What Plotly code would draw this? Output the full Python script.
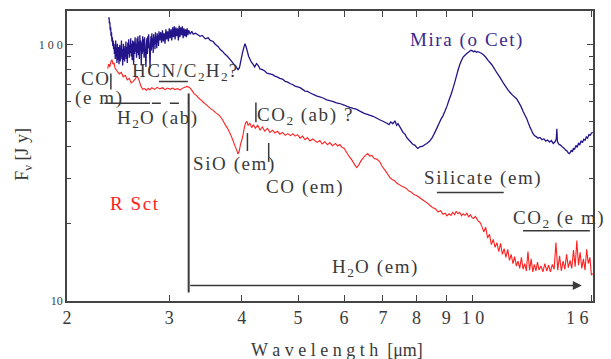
import math
import plotly.graph_objects as go

# ---------------- data ----------------
mira_wl = [2.360, 2.363, 2.366, 2.370, 2.374, 2.378, 2.382, 2.386, 2.390, 2.394, 2.398, 2.402, 2.406,
           2.410, 2.414, 2.418, 2.422, 2.426, 2.430, 2.434, 2.438, 2.442, 2.446, 2.450, 2.454, 2.458,
           2.462, 2.466, 2.470, 2.474, 2.478, 2.482, 2.486, 2.490, 2.494, 2.498, 2.502, 2.506, 2.510,
           2.514, 2.518, 2.522, 2.526, 2.530, 2.535, 2.540, 2.545, 2.550, 2.555, 2.560, 2.565, 2.570,
           2.575, 2.580, 2.585, 2.590, 2.595, 2.600, 2.605, 2.610, 2.615, 2.620, 2.625, 2.630, 2.635,
           2.640, 2.645, 2.650, 2.655, 2.660, 2.665, 2.670, 2.675, 2.680, 2.685, 2.690, 2.695, 2.700,
           2.705, 2.710, 2.715, 2.720, 2.725, 2.730, 2.735, 2.740, 2.745, 2.750, 2.755, 2.760, 2.765,
           2.770, 2.775, 2.780, 2.785, 2.790, 2.795, 2.800, 2.805, 2.810, 2.815, 2.820, 2.825, 2.830,
           2.835, 2.840, 2.845, 2.850, 2.855, 2.860, 2.865, 2.870, 2.875, 2.880, 2.890, 2.900, 2.910,
           2.920, 2.930, 2.940, 2.950, 2.960, 2.970, 2.980, 2.990, 3.000, 3.010, 3.020, 3.030, 3.040,
           3.050, 3.060, 3.070, 3.080, 3.090, 3.100, 3.110, 3.120, 3.130, 3.140, 3.150, 3.160, 3.170,
           3.180, 3.190, 3.200, 3.210, 3.220, 3.230, 3.240, 3.260, 3.280, 3.300,
           3.33, 3.36, 3.39, 3.42, 3.46, 3.50, 3.53, 3.57, 3.60,
           3.64, 3.67, 3.71, 3.74, 3.78, 3.82, 3.86, 3.89, 3.92, 3.94, 3.96, 3.97, 3.99, 4.01, 4.03,
           4.05, 4.07, 4.09, 4.11, 4.13, 4.15, 4.18, 4.21, 4.24, 4.27, 4.30, 4.34, 4.38, 4.42, 4.47,
           4.52, 4.56, 4.60, 4.65, 4.70, 4.75, 4.80, 4.84, 4.89, 4.94, 4.99, 5.04, 5.09, 5.14, 5.19,
           5.24, 5.31, 5.39, 5.45, 5.52, 5.60, 5.67, 5.75, 5.82, 5.90, 6.00, 6.07, 6.14, 6.22, 6.31,
           6.40, 6.50, 6.60, 6.73, 6.82, 6.91, 7.00, 7.11, 7.17, 7.22, 7.28, 7.34, 7.39, 7.43, 7.50,
           7.58, 7.64, 7.69, 7.75, 7.79, 7.87, 7.95, 8.00, 8.04, 8.10, 8.20, 8.27, 8.33, 8.42, 8.50,
           8.58, 8.67, 8.75, 8.82, 8.88, 8.95, 9.02, 9.10, 9.17, 9.23, 9.30, 9.36, 9.42, 9.49, 9.56,
           9.62, 9.69, 9.76, 9.85, 9.91, 9.96, 10.02, 10.08, 10.14, 10.20, 10.28, 10.36, 10.45, 10.54,
           10.62, 10.70, 10.78, 10.86, 10.95, 11.03, 11.12, 11.20, 11.30, 11.40, 11.50, 11.60, 11.70,
           11.80, 11.90, 12.00, 12.10, 12.20, 12.30, 12.38, 12.46, 12.55, 12.62, 12.68, 12.76, 12.85,
           12.95, 13.05, 13.15, 13.25, 13.35, 13.45, 13.55, 13.65, 13.75, 13.85, 13.92, 13.95, 13.98,
           14.05, 14.15, 14.25, 14.35, 14.45, 14.51, 14.58, 14.65, 14.70, 14.78, 14.84, 14.90, 14.96,
           15.05, 15.12, 15.20, 15.28, 15.36, 15.44, 15.52, 15.60, 15.68, 15.76, 15.84, 15.92, 16.00,
           16.08]
mira_flux = [126, 128, 121, 123, 114, 117, 108, 112, 103, 107, 99, 104, 96,
             101, 92, 98, 88, 104, 90, 97, 85, 101, 93, 87, 98, 84,
             95, 100, 86, 97, 90, 104, 88, 96, 83, 94, 101, 87, 97,
             86, 99, 90, 103, 88, 98, 85, 102, 92, 105, 89, 100, 93,
             106, 90, 101, 87, 104, 95, 84, 103, 92, 107, 94, 101, 89,
             106, 93, 108, 91, 103, 88, 109, 95, 104, 83, 102, 92, 108,
             94, 105, 89, 107, 96, 91, 82, 100, 106, 92, 108, 97, 110,
             99, 93, 81, 101, 108, 95, 111, 98, 106, 93, 110, 100, 107,
             96, 112, 101, 108, 97, 111, 102, 109, 99, 113, 104, 112, 102,
             114, 103, 111, 101, 115, 105, 113, 103, 116, 106, 115, 104, 117,
             107, 118, 105, 117, 108, 116, 104, 119, 107, 117, 109, 118, 106,
             116, 108, 115, 107, 116, 109, 114, 110, 113, 110,
             111, 109.5, 108, 108.8, 105.5, 106.5, 104, 103, 100.5,
             98.5, 96, 94, 92, 90, 87.5, 85, 83, 81.5, 80, 81, 83, 88, 93, 97,
             101, 98, 94, 90, 88, 86, 84, 82, 84.5, 83, 80.5, 80, 79, 77.5, 77,
             76.5, 75.5, 75, 74, 73.5, 72, 71.5, 70.6, 70, 69, 68.5, 68, 67, 66, 65.8,
             65, 64, 63, 62.6, 62, 61, 60.5, 60, 59.3, 59, 58.2, 57.5, 57, 56.5, 56,
             55, 54, 53.4, 52.6, 51.8, 51, 50.3, 49.4, 48.8, 50, 49.2, 50.5, 48.5, 49.2, 47.5,
             45.5, 44.8, 43.5, 42.6, 42.1, 41, 40.5, 39.8, 39.4, 40, 40.2, 40.8, 41.2, 42, 43.2,
             45, 47.3, 49.5, 51.5, 52.8, 55, 57.5, 61, 64, 67, 71, 75, 79, 83.6, 87,
             89.5, 91, 92.5, 94, 95, 95, 94, 94.5, 93.5, 94, 93.3, 92.5, 91, 89,
             87, 85.3, 83.6, 81.5, 79, 77, 75, 73, 70.5, 68.5, 66.5, 65, 63.6,
             62.5, 61.5, 59.5, 57.5, 55, 53, 51.5, 49.5, 47.5, 46.3, 45.2, 44.2, 43.8,
             43.2, 43.5, 42.6, 43, 42.1, 42.5, 41.7, 42.3, 41.2, 41.8, 43, 47, 42,
             41, 40.6, 40, 39.5, 38.8, 38.6, 38, 37.6, 37.9, 38.8, 38.2, 39.5, 39,
             40.5, 39.8, 41.2, 40.8, 42.2, 41.5, 42.8, 42.4, 43.7, 43.2, 44.6, 44.3, 45.2,
             45.6]

rsct_wl = [2.35, 2.36, 2.37, 2.38, 2.39, 2.40, 2.41, 2.42, 2.44, 2.46, 2.48, 2.50, 2.52, 2.54,
           2.56, 2.58, 2.60, 2.62, 2.64, 2.66, 2.68, 2.70, 2.72, 2.74, 2.76, 2.78, 2.80, 2.83,
           2.86, 2.89, 2.92, 2.95, 2.98, 3.01, 3.04, 3.07, 3.10, 3.13, 3.16, 3.19, 3.22, 3.25,
           3.28, 3.31, 3.34, 3.37, 3.40, 3.43, 3.46, 3.50, 3.53, 3.57, 3.60, 3.64, 3.67, 3.71,
           3.74, 3.78, 3.82, 3.86, 3.89, 3.92, 3.94, 3.96, 3.98, 4.00, 4.02, 4.04, 4.06, 4.08,
           4.10, 4.13, 4.16, 4.19, 4.22, 4.26, 4.30, 4.34, 4.38, 4.43, 4.47, 4.52, 4.56, 4.61,
           4.65, 4.70, 4.75, 4.80, 4.85, 4.90, 4.94, 4.99, 5.04, 5.09, 5.14, 5.19, 5.24, 5.30,
           5.39, 5.45, 5.50, 5.56, 5.62, 5.67, 5.73, 5.80, 5.85, 5.90, 5.95, 6.00, 6.07, 6.13,
           6.20, 6.26, 6.31, 6.36, 6.42, 6.48, 6.53, 6.59, 6.64, 6.70, 6.76, 6.83, 6.91, 6.98,
           7.05, 7.12, 7.19, 7.26, 7.33, 7.40, 7.48, 7.55, 7.62, 7.69, 7.77, 7.84, 7.92, 8.00,
           8.10, 8.18, 8.26, 8.35, 8.44, 8.53, 8.62, 8.71, 8.80, 8.88, 8.96, 9.02, 9.10, 9.17,
           9.23, 9.30, 9.36, 9.42, 9.49, 9.56, 9.62, 9.69, 9.76, 9.83, 9.90, 9.96, 10.02, 10.10,
           10.20, 10.28, 10.36, 10.44, 10.52, 10.60, 10.68, 10.76, 10.84, 10.92, 11.00, 11.08,
           11.16, 11.24, 11.32, 11.40, 11.48, 11.56, 11.64, 11.72, 11.80, 11.88, 11.96, 12.04,
           12.12, 12.20, 12.28, 12.36, 12.44, 12.52, 12.60, 12.68, 12.76, 12.84, 12.92, 13.00,
           13.10, 13.20, 13.30, 13.40, 13.50, 13.60, 13.70, 13.80, 13.90, 14.00, 14.10, 14.20,
           14.30, 14.40, 14.50, 14.60, 14.70, 14.80, 14.90, 15.00, 15.10, 15.20, 15.30, 15.40,
           15.50, 15.60, 15.70, 15.80, 15.90, 16.00, 16.08]
rsct_flux = [80.7, 84, 82, 86, 87.5, 84, 85, 81, 79, 77, 78, 75, 76, 73,
             74, 71, 72, 73.5, 75.5, 73, 69, 67, 67.5, 66.5, 67.5, 66.8, 68, 67,
             68.2, 67.3, 68, 66.8, 67.8, 67, 67.8, 66.9, 67.5, 66.6, 67.6, 68.3, 68.8, 68.2,
             66.5, 64.5, 63.5, 62, 61, 59.8, 58.8, 57.5, 56.5, 55.5, 54.5, 53.5, 52.6, 50.8,
             49, 47.2, 45, 42.5, 40.5, 38.8, 37.5, 38.5, 41, 42.5, 44.5, 47.5, 49.5, 50.3,
             48.5, 49.4, 47.5, 48.8, 47.2, 48.5, 46.5, 47.8, 46, 47.2, 45.5, 46.4, 45.3, 46,
             44.8, 45.5, 44.3, 45, 44.2, 45, 44, 44.6, 43.2, 44, 42.6, 43.4, 42.1, 42.9,
             41.6, 42.3, 41, 41.8, 40.7, 41.5, 40.4, 41.2, 40.3, 40.8, 39.8, 39.5, 37.8, 36.5,
             35.3, 34, 33.2, 34, 35.3, 36.3, 37, 37.6, 36.8, 37, 36, 35.8, 35, 33.5,
             32.5, 31.5, 30.4, 29.8, 29.5, 28.8, 28.4, 28, 27.8, 27.4, 26.8, 26.6, 26, 25.8,
             25.3, 24.9, 24.5, 24.1, 23.6, 23.1, 22.9, 22.3, 22.5, 21.8, 22.0, 21.5, 21.9, 21.6,
             22.2, 21.7, 22.4, 21.9, 22.2, 21.5, 21.9, 21.6, 22.0, 21.3, 21.7, 21.2, 21.0, 21.4,
             20.6, 20.3, 19.6, 18.6, 19.4, 17.6, 18.2, 16.6, 17.4, 16.2, 16.9, 15.6,
             16.8, 15.2, 16.0, 14.8, 15.9, 14.4, 15.2, 14.0, 14.9, 13.7, 14.3, 13.4,
             14.8, 13.3, 14.0, 13.1, 15.6, 13.2, 14.6, 13.0, 13.9, 13.1, 14.2, 13.2,
             13.7, 13.0, 14.0, 13.1, 13.8, 13.0, 13.9, 13.3, 16.9, 13.2, 15.0, 13.1,
             14.3, 13.3, 15.2, 13.5, 14.4, 13.4, 15.8, 13.6, 17.2, 13.8, 15.5, 13.4,
             14.6, 13.2, 15.9, 14.0, 14.8, 12.6, 12.8]

x_tickvals = [2, 3, 4, 5, 6, 7, 8, 9, 10, 16]
x_ticktext = ["2", "3", "4", "5", "6", "7", "8", "9", "1 0", ""]
last_tick_label = "1 6"
y_tickvals = [10, 100]
y_ticktext = ["10", "1 0 0"]
y_minor = [20, 30, 40, 50, 60, 70, 80, 90]

MIRA_C = "#24148a"
RSCT_C = "#ff2020"
INK = "#3a3a3a"
FONT = "Liberation Serif"
HAIR = "\u200a"


def spaced(s):
    """Insert hair spaces between visible characters (letter spacing)."""
    out, intag = [], False
    for ch in s:
        out.append(ch)
        if ch == "<":
            intag = True
        elif ch == ">":
            intag = False
        elif not intag:
            out.append(HAIR)
    txt = "".join(out)
    return txt.rstrip(HAIR)


fig = go.Figure()
fig.add_trace(go.Scatter(x=mira_wl, y=mira_flux, mode="lines",
                         line=dict(color=MIRA_C, width=1.3, simplify=False), hoverinfo="skip"))
fig.add_trace(go.Scatter(x=rsct_wl, y=rsct_flux, mode="lines",
                         line=dict(color=RSCT_C, width=1.1, simplify=False), hoverinfo="skip"))


def seg(x0, y0, x1, y1, dash="solid", w=1.5):
    fig.add_shape(type="line", xref="x", yref="y", x0=x0, y0=y0, x1=x1, y1=y1,
                  line=dict(color=INK, width=w, dash=dash))


seg(3.24, 64.6, 3.24, 10.8, w=2)            # vertical boundary
seg(2.32, 59.1, 2.78, 59.1)                 # H2O (ab) solid
seg(2.80, 59.1, 3.24, 59.1, dash="dash")    # H2O (ab) dashed
seg(2.38, 77.2, 2.38, 66.9)                 # CO (em) tick
seg(2.88, 71.9, 3.23, 71.9)                 # HCN/C2H2 bar
seg(4.23, 59.6, 4.23, 49.9)                 # CO2 (ab) tick
seg(4.09, 45.2, 4.09, 38.5)                 # SiO tick 1
seg(4.45, 41.4, 4.45, 34.9)                 # SiO tick 2
seg(8.67, 26.5, 11.3, 26.5)                 # Silicate bar
seg(12.2, 18.8, 15.9, 18.8)                 # CO2 (em) bar

# H2O (em) arrow
fig.add_annotation(x=math.log10(15.4), y=math.log10(11.5), xref="x", yref="y",
                   ax=math.log10(3.24), ay=math.log10(11.5), axref="x", ayref="y",
                   text="", showarrow=True, arrowhead=2, arrowsize=1.2, arrowwidth=1.5,
                   arrowcolor=INK)


def label(text, x, y, color=INK, size=19):
    fig.add_annotation(text=spaced(text), x=x, y=y, xref="paper", yref="paper",
                       xanchor="center", yanchor="middle", showarrow=False,
                       font=dict(family=FONT, size=size, color=color))


label("CO", 0.053, 0.767)
label("(e m)", 0.059, 0.699)
label("HCN/C<sub>2</sub>H<sub>2</sub>?", 0.224, 0.791)
label("H<sub>2</sub>O (ab)", 0.171, 0.627)
label("CO<sub>2</sub> (ab) ?", 0.452, 0.637)
label("SiO (em)", 0.316, 0.473)
label("CO (em)", 0.452, 0.394)
label("Silicate (em)", 0.789, 0.425)
label("CO<sub>2</sub> (e m)", 0.934, 0.284)
label("H<sub>2</sub>O (em)", 0.584, 0.113)
label("Mira (o Cet)", 0.759, 0.901, color="#3a2a90")
label("R Sct", 0.129, 0.336, color=RSCT_C)

# last x tick label (drawn left of the frame edge, as in the reference)
fig.add_annotation(text=last_tick_label, x=0.970, y=-0.058, xref="paper", yref="paper",
                   xanchor="center", yanchor="middle", showarrow=False,
                   font=dict(family=FONT, size=18, color=INK))

# axis titles
fig.add_annotation(text="W a v e l e n g t h  [μm]", x=0.513, y=-0.168, xref="paper", yref="paper",
                   xanchor="center", yanchor="middle", showarrow=False,
                   font=dict(family=FONT, size=18, color=INK))
fig.add_annotation(text="F<sub>ν</sub> [J y]", x=-0.082, y=0.507, xref="paper", yref="paper",
                   xanchor="center", yanchor="middle", showarrow=False, textangle=-90,
                   font=dict(family=FONT, size=18, color=INK))

fig.update_layout(
    width=611, height=359,
    margin=dict(l=67, r=18, t=9, b=58),
    paper_bgcolor="white", plot_bgcolor="white",
    showlegend=False,
    font=dict(family=FONT, color=INK),
)
fig.update_xaxes(type="log", range=[math.log10(2), math.log10(16.1)],
                 tickvals=x_tickvals, ticktext=x_ticktext,
                 ticks="inside", ticklen=6, tickwidth=1.2, tickcolor="#444",
                 showline=True, linecolor="#444", linewidth=1.5, mirror="ticks",
                 showgrid=False, zeroline=False,
                 tickfont=dict(family=FONT, size=18, color=INK))
fig.update_yaxes(type="log", range=[1, math.log10(135.5)],
                 tickvals=y_tickvals, ticktext=y_ticktext,
                 ticks="inside", ticklen=6, tickwidth=1.2, tickcolor="#444",
                 minor=dict(tickvals=y_minor, ticks="inside", ticklen=4, tickcolor="#444"),
                 showline=True, linecolor="#444", linewidth=1.5, mirror="ticks",
                 showgrid=False, zeroline=False,
                 tickfont=dict(family=FONT, size=12, color=INK))

fig.write_html("out.html")
